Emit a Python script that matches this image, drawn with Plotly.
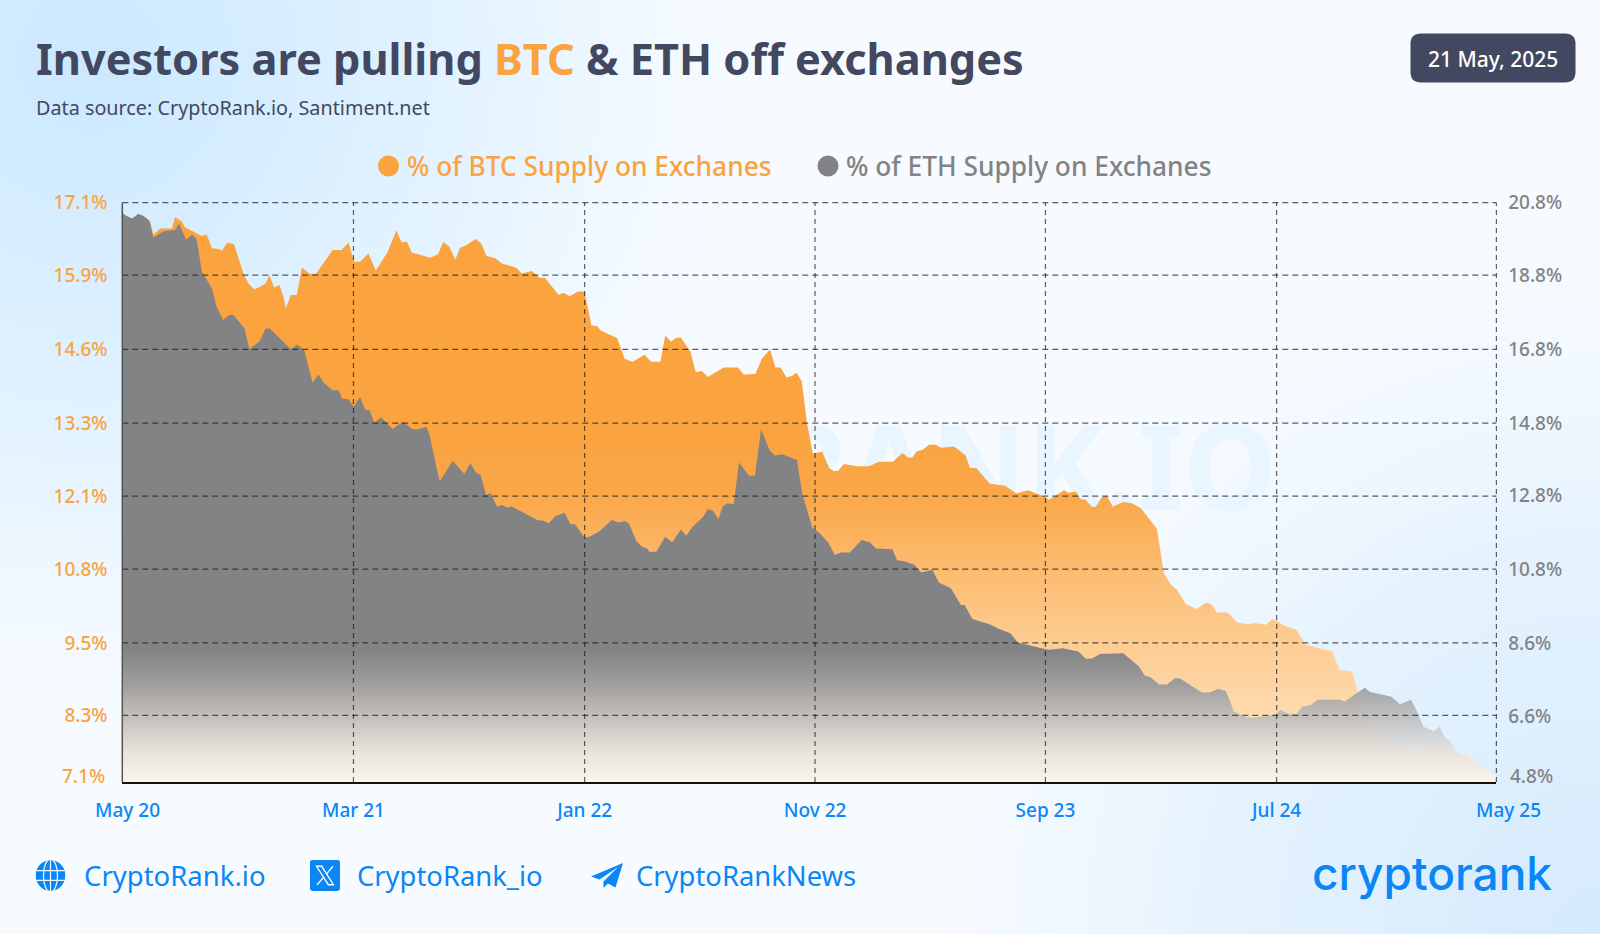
import base64

import numpy as np
import pandas as pd
import plotly.graph_objects as go

W, H = 1600, 934
FONT = "Noto Sans"
ORANGE = "#FAA33F"
GREY = "#828384"
NAVY = "#424860"
BLUE = "#0A86F5"

# values; x is weeks after the first date
start_date = pd.Timestamp("2020-05-21")

btc_weeks = [0, 1.1, 1.9, 3.0, 5.3, 5.9, 7.2, 9.4, 10.0, 11.3, 11.9, 13.8, 15.1, 16.0, 17.0, 18.4, 18.9, 19.9, 21.2,
             23.1, 23.9, 25.0, 26.1, 27.2, 27.9, 28.8, 29.8, 30.6, 31.0, 32.0, 33.1, 34.1, 35.6, 36.8, 39.9, 41.6,
             42.9, 44.0, 45.1, 46.7, 48.1, 50.3, 52.0, 53.0, 54.0, 54.9, 58.4, 59.9, 60.9, 62.0, 63.2, 64.1, 65.4,
             67.0, 68.1, 69.1, 70.8, 72.0, 74.7, 75.8, 77.7, 79.2, 80.1, 82.8, 83.7, 84.9, 86.4, 87.7,
             89.0, 90.1, 90.7, 93.9, 95.3, 96.8, 99.1, 100.3, 102.1, 103.0, 104.1, 105.1, 106.0, 107.8, 108.8, 110.0,
             111.1, 114.1, 116.8, 117.9, 120.1, 121.4, 122.9, 123.9, 124.9, 126.0, 127.1, 127.9, 128.9, 129.9, 131.0,
             132.8, 134.1, 135.0, 135.8, 136.9, 139.5, 141.7, 143.5, 146.2, 148.0, 149.1, 149.9, 150.7, 151.8, 153.1,
             154.3, 155.4, 157.8, 160.0, 160.8, 162.0, 164.6,
             166.5, 167.5, 169.6, 171.9, 175.0, 175.8, 176.7, 178.7, 179.4, 180.9, 181.8, 182.8, 183.9, 184.7, 185.8,
             186.8, 187.9, 189.9, 191.6, 193.3, 196.3, 197.6, 199.0, 200.1, 201.8, 203.8, 205.6, 206.6, 207.7, 209.7,
             211.6, 213.6, 214.8, 217.0, 218.2, 219.0, 220.1, 222.8, 224.5, 229.6, 230.9, 233.3, 234.3, 235.1, 237.0,
             239.7, 243.1, 245.1, 248.5, 251.2, 253.6, 255.0, 260.7]
btc_supply = [16.93, 16.85, 16.82, 16.91, 16.78, 16.55, 16.66, 16.66, 16.85, 16.78, 16.68, 16.59, 16.53, 16.56, 16.32,
              16.31, 16.28, 16.42, 16.39, 15.86, 15.72, 15.62, 15.66, 15.72, 15.86, 15.65, 15.69, 15.49, 15.29, 15.52,
              15.52, 15.99, 15.88, 15.89, 16.29, 16.29, 16.42, 16.09, 16.09, 16.23, 15.94, 16.25, 16.63, 16.42, 16.43,
              16.25, 16.16, 16.22, 16.43, 16.35, 16.13, 16.33, 16.38, 16.48, 16.40, 16.19, 16.15, 16.06, 15.99, 15.89,
              15.93, 15.81, 15.82, 15.52, 15.56, 15.50, 15.58, 15.58,
              15.00, 14.99, 14.92, 14.78, 14.43, 14.38, 14.50, 14.38, 14.38, 14.83, 14.72, 14.79, 14.79, 14.55, 14.20,
              14.22, 14.12, 14.28, 14.28, 14.16, 14.17, 14.44, 14.59, 14.28, 14.28, 14.11, 14.14, 14.19, 14.05, 13.33,
              12.81, 12.84, 12.56, 12.51, 12.51, 12.63, 12.59, 12.59, 12.67, 12.67, 12.82, 12.74, 12.74, 12.85, 12.87,
              12.96, 12.96, 12.91, 12.93, 12.78, 12.56, 12.56, 12.29,
              12.27, 12.26, 12.13, 12.18, 12.07, 12.02, 12.07, 12.18, 12.14, 12.16, 12.03, 12.02, 11.90, 11.90, 12.06,
              12.09, 11.90, 11.98, 11.96, 11.87, 11.52, 10.76, 10.56, 10.48, 10.23, 10.15, 10.26, 10.23, 10.09, 10.09,
              9.92, 9.89, 9.91, 9.88, 9.98, 9.95, 9.88, 9.79, 9.54, 9.42, 9.11, 9.08, 8.77, 8.43, 8.14,
              7.97, 7.77, 7.69, 7.81, 7.80, 7.67, 7.66, 7.29]

eth_weeks = [0, 0.5, 1.9, 3.0, 4.0, 5.1, 5.9, 7.8, 10.0, 10.8, 12.1, 13.2, 14.1, 15.1, 17.0, 17.9, 19.1, 20.3, 21.1,
             23.2, 24.1, 26.0, 27.2, 28.0, 32.0, 33.2, 34.5, 36.1, 37.2, 38.2, 39.9, 41.0, 41.8, 42.9, 43.9, 45.1,
             46.1, 46.9, 47.8, 49.1, 51.3, 53.2, 55.1, 56.2, 57.7, 58.3, 60.2, 62.7, 64.9, 66.0, 67.1, 68.0, 69.0,
             69.9, 71.1, 72.0, 73.1, 73.9, 78.7, 79.9, 80.9, 82.2, 83.9, 85.0, 85.9,
             87.7, 88.6, 90.4, 92.9, 94.2, 95.3, 96.1, 97.5, 98.6, 99.6, 100.0, 101.3, 103.0, 104.3, 106.0, 107.0,
             108.1, 110.2, 111.1, 112.1, 113.1, 113.9, 114.8, 116.0, 117.0, 118.9, 120.0, 121.2, 122.8, 123.8, 125.2,
             128.0, 129.0, 130.9, 132.2, 133.9, 135.2, 136.3, 138.0, 140.3, 141.8, 143.0, 146.1, 147.0, 148.3, 150.2,
             151.6, 153.7, 154.9, 157.2, 159.1, 159.8, 161.3, 164.4,
             166.5, 168.5, 169.9, 175.0, 176.0, 178.4, 181.4, 182.8, 184.0, 185.5, 189.9, 192.9, 194.0, 195.0, 196.7,
             198.2, 199.7, 200.7, 204.8, 206.2, 208.0, 209.4, 210.9, 213.3, 214.6, 218.7, 219.7, 221.4, 222.8, 223.8,
             225.5, 226.8, 230.9, 231.9, 235.7, 236.7, 240.7, 242.4, 244.5, 245.5, 246.8, 248.9, 249.9, 250.9, 251.9,
             253.6, 255.0, 260.7]
eth_supply = [20.53, 20.46, 20.37, 20.49, 20.44, 20.31, 19.85, 20.02, 20.05, 20.23, 19.78, 19.93, 19.81, 18.91, 18.46,
              17.95, 17.59, 17.73, 17.73, 17.36, 16.80, 17.00, 17.36, 17.36, 16.79, 16.92, 16.77, 15.88, 16.10, 15.88,
              15.67, 15.67, 15.43, 15.43, 15.22, 15.49, 15.13, 15.13, 14.78, 14.93, 14.61, 14.81, 14.60, 14.60, 14.67,
              14.44, 13.18, 13.73, 13.38, 13.67, 13.42, 13.35, 12.80, 12.86, 12.48, 12.53, 12.46, 12.49, 12.12, 12.10,
              12.03, 12.23, 12.32, 12.01, 12.00,
              11.64, 11.66, 11.80, 12.12, 12.05, 12.09, 12.03, 11.55, 11.39, 11.34, 11.25, 11.25, 11.66, 11.51, 11.86,
              11.69, 11.92, 12.21, 12.42, 12.37, 12.14, 12.49, 12.58, 12.55, 13.69, 13.33, 13.33, 14.60, 14.03, 13.88,
              13.92, 13.76, 12.85, 11.91, 11.77, 11.51, 11.16, 11.23, 11.23, 11.57, 11.51, 11.34, 11.32, 11.02, 10.99,
              10.90, 10.68, 10.76, 10.41, 10.25, 9.79, 9.79, 9.41, 9.27,
              9.13, 9.02, 8.77, 8.59, 8.57, 8.61, 8.52, 8.32, 8.33, 8.45, 8.47, 8.11, 7.86, 7.82, 7.62,
              7.62, 7.79, 7.78, 7.40, 7.40, 7.50, 7.43, 6.88, 6.72, 6.71, 6.79, 6.92, 6.81, 6.81, 7.01,
              7.06, 7.20, 7.20, 7.15, 7.53, 7.41, 7.29, 7.08, 7.20, 6.92, 6.47, 6.33, 6.47, 6.17, 6.06,
              5.72, 5.69, 5.10]

x_tick_dates = ["2021-03-24", "2022-01-25", "2022-11-27", "2023-09-29", "2024-08-01"]
x_tick_text = ["Mar 21", "Jan 22", "Nov 22", "Sep 23", "Jul 24"]
left_tick_vals = [17.1, 15.86, 14.59, 13.33, 12.08, 10.83, 9.57, 8.33]
left_tick_text = ["17.1%", "15.9%", "14.6%", "13.3%", "12.1%", "10.8%", "9.5%", "8.3%"]
right_tick_vals = [20.8, 18.81, 16.78, 14.77, 12.78, 10.77, 8.75, 6.76]
right_tick_text = ["20.8%", "18.8%", "16.8%", "14.8%", "12.8%", "10.8%", "8.6%", "6.6%"]
left_range = [7.19, 17.1]
right_range = [4.95, 20.8]
last_week = 260.7

# plot area in page pixels
PLOT_L, PLOT_R, PLOT_T, PLOT_B = 122.3, 1496.4, 202.7, 782


def to_dates(weeks):
    return start_date + pd.to_timedelta(np.array(weeks) * 7, unit="D")


def px(x):
    return x / W


def py(y):
    return 1 - y / H


def value_to_paper(v):
    frac = (v - left_range[0]) / (left_range[1] - left_range[0])
    return py(PLOT_B) + frac * (py(PLOT_T) - py(PLOT_B))


def date_to_paper(d):
    end_date = to_dates([last_week])[0]
    frac = (pd.Timestamp(d) - start_date) / (end_date - start_date)
    return px(PLOT_L) + frac * (px(PLOT_R) - px(PLOT_L))


def svg_uri(svg):
    return "data:image/svg+xml;base64," + base64.b64encode(svg.encode()).decode()


def label(text, x, y, size, color, anchor="left", weight=400, family=FONT):
    return dict(text=text, x=px(x), y=py(y), xref="paper", yref="paper", xanchor=anchor, yanchor="middle",
                showarrow=False, font=dict(family=family, size=size, color=color, weight=weight))


def icon(svg, x0, y0, x1, y1):
    return dict(source=svg_uri(svg), xref="paper", yref="paper", x=px(x0), y=py(y0), sizex=(x1 - x0) / W,
                sizey=(y1 - y0) / H, xanchor="left", yanchor="top", sizing="stretch", layer="above")


background = f"""<svg xmlns="http://www.w3.org/2000/svg" width="{W}" height="{H}" viewBox="0 0 {W} {H}">
<defs>
<radialGradient id="a" gradientUnits="userSpaceOnUse" cx="90" cy="60" r="760">
<stop offset="0" stop-color="#cbe8ff"/><stop offset="0.55" stop-color="#e6f4ff"/>
<stop offset="1" stop-color="#f7fbff" stop-opacity="0"/></radialGradient>
<radialGradient id="b" gradientUnits="userSpaceOnUse" cx="1600" cy="934" r="800">
<stop offset="0" stop-color="#d5eafd"/><stop offset="0.5" stop-color="#e6f3fe"/>
<stop offset="1" stop-color="#f7fbff" stop-opacity="0"/></radialGradient>
</defs>
<rect width="{W}" height="{H}" fill="#f7fbff"/>
<rect width="{W}" height="{H}" fill="url(#a)"/>
<rect width="{W}" height="{H}" fill="url(#b)"/>
</svg>"""

globe_svg = f"""<svg xmlns="http://www.w3.org/2000/svg" viewBox="0 0 32 32">
<defs><clipPath id="c"><circle cx="16" cy="16" r="16"/></clipPath></defs>
<g clip-path="url(#c)"><circle cx="16" cy="16" r="16" fill="{BLUE}"/>
<g fill="none" stroke="#f3f9ff" stroke-width="1.3">
<ellipse cx="16" cy="16" rx="7.5" ry="17"/><path d="M16 0V32M0 11H32M0 21H32"/></g></g></svg>"""

x_svg = f"""<svg xmlns="http://www.w3.org/2000/svg" viewBox="0 0 32 32">
<rect width="32" height="32" rx="2.5" fill="{BLUE}"/>
<path d="M7 6.5H12.5L25 25.5H19.5Z" fill="none" stroke="#fff" stroke-width="1.4"/>
<path d="M24.5 6.5L17.3 14.8M14.6 17.8L7.5 25.5" stroke="#fff" stroke-width="1.4"/></svg>"""

plane_svg = f"""<svg xmlns="http://www.w3.org/2000/svg" viewBox="0 0 32 25">
<path d="M32 0L0 13.5L8.5 16.5L27 4L12.5 18.5V25L17 20.5L24.5 24.5Z" fill="{BLUE}"/></svg>"""

btc_fill = dict(type="vertical", start=left_range[0], stop=left_range[1], colorscale=[
    [0, "rgb(253,244,234)"], [0.114, "rgb(253,219,176)"], [0.24, "rgb(253,205,146)"], [0.368, "rgb(252,187,112)"],
    [0.494, "rgb(250,167,72)"], [0.61, "rgb(250,163,63)"], [1, "rgb(250,163,63)"]])
eth_fill = dict(type="vertical", start=right_range[0], stop=right_range[1], colorscale=[
    [0, "rgba(248,244,238,0.75)"], [0.05, "rgba(228,226,224,0.8)"], [0.114, "rgba(186,186,186,0.88)"],
    [0.167, "rgba(155,156,158,0.95)"], [0.228, "rgb(130,131,132)"], [1, "rgb(130,131,132)"]])

fig = go.Figure()
# watermark goes first so the areas cover it
fig.add_trace(go.Scatter(x=to_dates([127.5]), y=[12.35], mode="text", text=["CRYPTORANK.IO"], yaxis="y",
                         textfont=dict(family=FONT, size=118, color="#e9f5ff", weight=700), hoverinfo="skip",
                         showlegend=False))
fig.add_trace(go.Scatter(x=to_dates(btc_weeks), y=btc_supply, mode="lines", name="% of BTC Supply on Exchanes",
                         line=dict(width=0), fill="tozeroy", fillgradient=btc_fill, yaxis="y"))
fig.add_trace(go.Scatter(x=to_dates(eth_weeks), y=eth_supply, mode="lines", name="% of ETH Supply on Exchanes",
                         line=dict(width=0), fill="tozeroy", fillgradient=eth_fill, yaxis="y2"))

grid_h = dict(color="rgba(20,20,20,0.68)", width=1.2, dash="6px,4px")
grid_v = dict(color="rgba(20,20,20,0.68)", width=1.2, dash="5px,4px")
shapes = []
# paper refs: shapes tied to an axis get cut off at the edge of the plot
for v in left_tick_vals:
    y = value_to_paper(v)
    shapes.append(dict(type="line", xref="paper", yref="paper", x0=px(PLOT_L), x1=px(PLOT_R), y0=y, y1=y,
                       line=grid_h, layer="above"))
for d in x_tick_dates + [to_dates([last_week])[0]]:
    x = date_to_paper(d)
    shapes.append(dict(type="line", xref="paper", yref="paper", x0=x, x1=x, y0=py(PLOT_B), y1=py(PLOT_T),
                       line=grid_v, layer="above"))
shapes.append(dict(type="line", xref="paper", yref="paper", x0=px(PLOT_L), x1=px(PLOT_L), y0=py(PLOT_B),
                   y1=py(PLOT_T), line=dict(color="#555555", width=1.5), layer="above"))
# date badge, legend dots
shapes.append(dict(type="path", xref="paper", yref="paper", fillcolor=NAVY, line=dict(width=0), layer="above",
                   path=(f"M{px(1421)},{py(33.5)} L{px(1565)},{py(33.5)} Q{px(1575.5)},{py(33.5)} {px(1575.5)},{py(44)} "
                         f"L{px(1575.5)},{py(72)} Q{px(1575.5)},{py(82.5)} {px(1565)},{py(82.5)} "
                         f"L{px(1421)},{py(82.5)} Q{px(1410.5)},{py(82.5)} {px(1410.5)},{py(72)} "
                         f"L{px(1410.5)},{py(44)} Q{px(1410.5)},{py(33.5)} {px(1421)},{py(33.5)} Z")))
for cx, color in [(388.5, ORANGE), (828, GREY)]:
    shapes.append(dict(type="circle", xref="paper", yref="paper", x0=px(cx - 10.5), x1=px(cx + 10.5),
                       y0=py(176.5), y1=py(155.5), fillcolor=color, line=dict(width=0), layer="above"))

annotations = [
    label(f'Investors are pulling <span style="color:{ORANGE}">BTC</span> &amp; ETH off exchanges', 34, 58, 43.3,
          NAVY, weight=700),
    label("Data source: CryptoRank.io, Santiment.net", 34, 107.5, 19.8, NAVY),
    label("21 May, 2025", 1493, 58.5, 21, "#ffffff", anchor="center", weight=500),
    label("% of BTC Supply on Exchanes", 404.5, 166, 26.3, ORANGE, weight=500),
    label("% of ETH Supply on Exchanes", 843.5, 166, 26.3, GREY, weight=500),
    label("7.1%", 107, 776, 19, ORANGE, anchor="right", weight=500),
    label("4.8%", 1508, 776, 19, GREY, weight=500),
    label("May 20", 127, 810, 19, BLUE, anchor="center", weight=500),
    label("May 25", 1508, 810, 19, BLUE, anchor="center", weight=500),
    label("CryptoRank.io", 81.5, 875.5, 27.5, BLUE),
    label("CryptoRank_io", 355, 875.5, 27.4, BLUE),
    label("CryptoRankNews", 634, 875.5, 27.4, BLUE),
    label("cryptorank", 1310, 873, 46, BLUE, weight=500, family="Inter"),
]

fig.update_layout(
    width=W, height=H, margin=dict(l=0, r=0, t=0, b=0), autosize=False,
    paper_bgcolor="#f7fbff", plot_bgcolor="rgba(0,0,0,0)", showlegend=False,
    font=dict(family=FONT),
    images=[
        dict(source=svg_uri(background), xref="paper", yref="paper", x=0, y=1, sizex=1, sizey=1,
             xanchor="left", yanchor="top", sizing="stretch", layer="below"),
        icon(globe_svg, 35.5, 860, 65.5, 891),
        icon(x_svg, 310, 860, 340, 891),
        icon(plane_svg, 591, 863, 623, 888),
    ],
    shapes=shapes, annotations=annotations,
    xaxis=dict(domain=[px(PLOT_L), px(PLOT_R)], range=[start_date, to_dates([last_week])[0]], type="date",
               tickmode="array", tickvals=x_tick_dates, ticktext=x_tick_text, showgrid=False, zeroline=False,
               automargin=False, ticks="outside", ticklen=10, tickcolor="rgba(0,0,0,0)",
               tickfont=dict(family=FONT, size=19, color=BLUE, weight=500),
               showline=True, linecolor="#111111", linewidth=2, layer="above traces"),
    yaxis=dict(domain=[py(PLOT_B), py(PLOT_T)], range=left_range, tickmode="array", tickvals=left_tick_vals,
               ticktext=left_tick_text, showgrid=False, zeroline=False, automargin=False, ticks="outside", ticklen=10,
               tickcolor="rgba(0,0,0,0)", tickfont=dict(family=FONT, size=19, color=ORANGE, weight=500),
               showline=False),
    yaxis2=dict(domain=[py(PLOT_B), py(PLOT_T)], range=right_range, overlaying="y", side="right", tickmode="array",
                tickvals=right_tick_vals, ticktext=right_tick_text, showgrid=False, zeroline=False, automargin=False,
                ticks="outside", ticklen=7, tickcolor="rgba(0,0,0,0)",
                tickfont=dict(family=FONT, size=19, color=GREY, weight=500), showline=False),
)

fig.write_html("out.html", config={"displayModeBar": False},
               post_script="document.body.style.margin='0';document.body.style.overflow='hidden';")
